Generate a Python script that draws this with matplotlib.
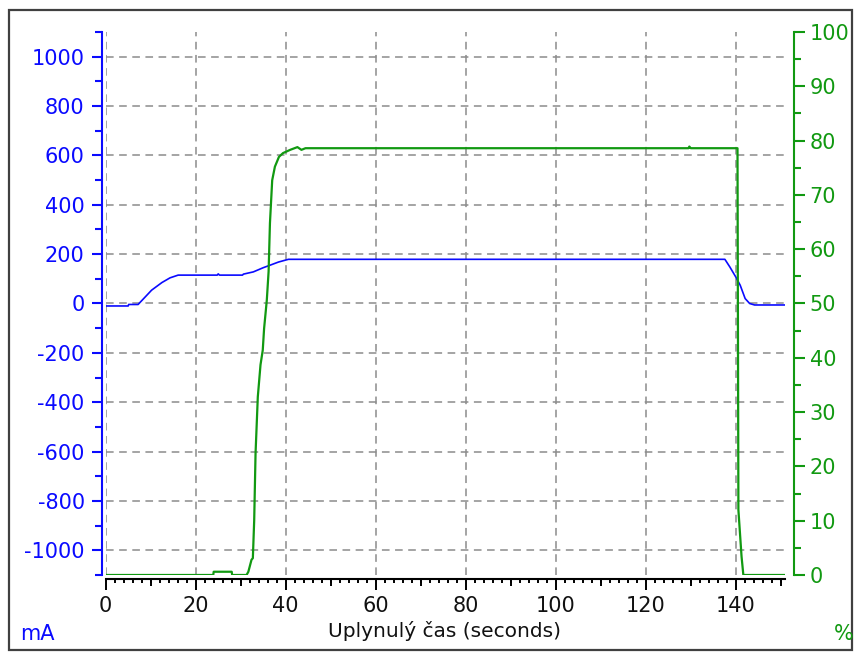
import matplotlib
matplotlib.use("Agg")
import matplotlib.pyplot as plt
from matplotlib.patches import Rectangle
import numpy as np

plt.rcParams['font.family'] = ['DejaVu Sans']
plt.rcParams['axes.unicode_minus'] = False

# ---- data ----
t_ma = [0, 5, 5.1, 7.2, 10.2, 12.5, 14.3, 16.1, 20, 24.8, 25, 25.3, 30.4, 30.6,
        32.8, 35, 36.5, 38.4, 40.6, 60, 80, 100, 120, 137.6, 138.7, 140, 141,
        142.1, 143.1, 144.2, 151]
ma = [-10, -10, -4, -4, 54, 85, 104, 115, 115, 115, 120, 115, 115, 119,
      128, 145, 155, 168, 179, 179, 179, 179, 179, 179, 148, 108, 74,
      20, 0, -6, -6]

t_pct = [0, 23.9, 24.0, 28.0, 28.1, 31.3, 31.7, 32.4, 32.7, 33.0, 33.3, 33.8,
         34.4, 34.9, 35.2, 35.8, 36.2, 36.5, 37.0, 37.6, 38.5, 39.4, 41.0, 42.6,
         43.5, 44.4, 129.5, 129.7, 130.0, 140.4, 140.6, 141.3, 141.7, 151]
pct = [0, 0, 0.6, 0.6, 0, 0, 0.6, 2.8, 3.1, 10.1, 22.4, 32.8,
       38.7, 41.4, 45.4, 50.6, 55.9, 64.8, 72.7, 75.2, 77.0, 77.7, 78.3, 78.8,
       78.3, 78.6, 78.6, 78.9, 78.6, 78.6, 12.0, 3.4, 0, 0]

x_major = [0, 20, 40, 60, 80, 100, 120, 140]
x_mid = [10, 30, 50, 70, 90, 110, 130, 150]
x_minor = list(range(0, 152, 2))
y_left_major = [-1000, -800, -600, -400, -200, 0, 200, 400, 600, 800, 1000]
y_left_minor = [-1100, -900, -700, -500, -300, -100, 100, 300, 500, 700, 900, 1100]
y_right_major = [0, 10, 20, 30, 40, 50, 60, 70, 80, 90, 100]
y_right_minor = [5, 15, 25, 35, 45, 55, 65, 75, 85, 95]

BLUE = '#0a0aff'
GREEN = '#119911'
FS = 15

W, H = 859, 653
fig = plt.figure(figsize=(W / 100, H / 100), dpi=100)
fig.patch.set_facecolor('white')

x0, x1, ytop, ybot = 105.7, 785.2, 32, 575
ax = fig.add_axes([x0 / W, 1 - ybot / H, (x1 - x0) / W, (ybot - ytop) / H])
ax.set_facecolor('none')
ax.set_xlim(0, 151)
ax.set_ylim(-1100, 1100)

# grid
ax.set_xticks(x_major)
ax.set_xticks(x_minor, minor=True)
ax.set_yticks(y_left_major)
ax.set_yticks(y_left_minor, minor=True)
ax.grid(True, which='major', color='#8c8c8c', linestyle=(0, (5, 3.6)), linewidth=1.1)
ax.set_axisbelow(True)

ax.plot(t_ma, ma, color=BLUE, lw=1.2, zorder=3)

for s in ['top', 'right']:
    ax.spines[s].set_visible(False)
ax.spines['left'].set_color(BLUE)
ax.spines['left'].set_linewidth(1.5)
ax.spines['left'].set_position(('outward', 2.9))
ax.spines['bottom'].set_color('black')
ax.spines['bottom'].set_linewidth(1.5)
ax.spines['bottom'].set_position(('outward', 2.9))

ax.tick_params(axis='y', which='major', colors=BLUE, length=7.2, width=1.5,
               labelsize=FS, pad=5, direction='out')
ax.tick_params(axis='y', which='minor', colors=BLUE, length=5, width=1.5, direction='out')
ax.tick_params(axis='x', which='major', colors='black', length=8, width=1.4,
               labelsize=FS, pad=4, direction='out')
ax.tick_params(axis='x', which='minor', colors='black', length=3, width=1.4, direction='out')
for lab in ax.get_yticklabels():
    lab.set_color(BLUE)
for lab in ax.get_xticklabels():
    lab.set_color('#111111')

# medium ticks at tens
sec = ax.secondary_xaxis(-4 / (ybot - ytop))
sec.set_xticks(x_mid)
sec.tick_params(axis='x', length=5, width=1.4, labelbottom=False, colors='black')
sec.spines['bottom'].set_visible(False)

# right axis
tw = ax.twinx()
tw.set_ylim(0, 100)
tw.set_xlim(0, 151)
tw.plot(t_pct, pct, color=GREEN, lw=1.6, zorder=4)
for s in ['top', 'left', 'bottom']:
    tw.spines[s].set_visible(False)
tw.spines['right'].set_color(GREEN)
tw.spines['right'].set_linewidth(1.5)
tw.spines['right'].set_position(('outward', 6.5))
tw.set_yticks(y_right_major)
tw.set_yticks(y_right_minor, minor=True)
tw.tick_params(axis='y', which='major', colors=GREEN, length=8, width=1.5,
               labelsize=FS, pad=3, direction='out')
tw.tick_params(axis='y', which='minor', colors=GREEN, length=5, width=1.5, direction='out')

# texts
fig.text(445 / W, 1 - 637 / H, 'Uplynulý čas (seconds)', ha='center', va='baseline',
         fontsize=14.5, color='#111111')
fig.text(20 / W, 1 - 640 / H, 'mA', ha='left', va='baseline', fontsize=FS, color=BLUE)
fig.text(854 / W, 1 - 640 / H, '%', ha='right', va='baseline', fontsize=FS, color=GREEN)

# outer frame
fig.patches.append(Rectangle((9 / W, 3 / H), (852 - 9) / W, (643 - 3) / H,
                             transform=fig.transFigure, fill=False,
                             ec='#404040', lw=1.6))

fig.savefig('out.png', dpi=100)
